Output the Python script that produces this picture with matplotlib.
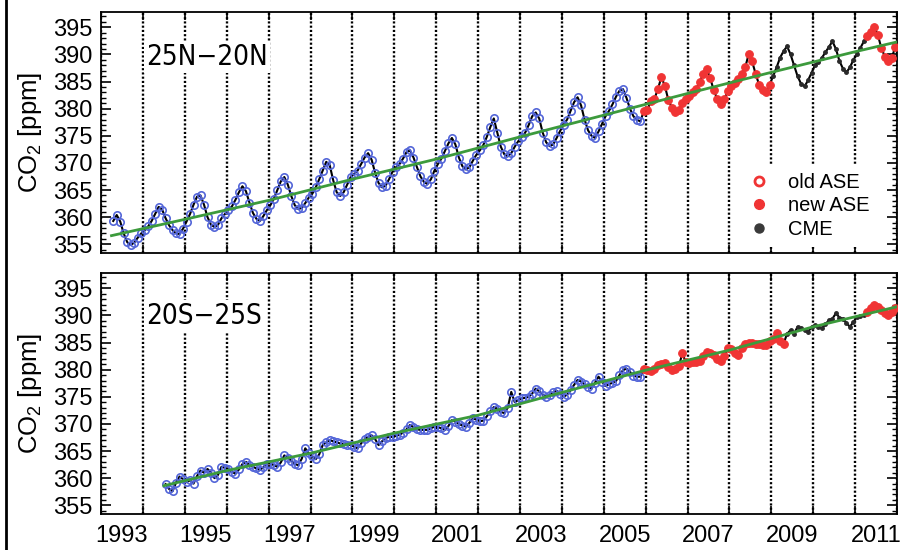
import numpy as np
import matplotlib
matplotlib.use('Agg')
import matplotlib.pyplot as plt
from matplotlib.lines import Line2D

# 数据：月平均 CO2 [ppm]
# 25N-20N，1993年4月 - 2011年12月
north_start = (1993, 4)
north_co2 = [
    359.3, 360.4, 359.2, 357.0, 355.4, 354.9, 355.3, 356.2, 357.0,                  # 1993
    357.6, 358.3, 359.3, 360.6, 361.9, 361.4, 359.8, 358.5, 357.6, 357.0, 356.9, 357.9,  # 1994
    359.2, 360.6, 362.3, 363.8, 364.0, 362.3, 360.0, 358.6, 358.2, 358.6, 359.8, 360.6,  # 1995
    361.4, 362.0, 363.2, 364.6, 365.7, 364.8, 362.7, 360.8, 359.7, 359.3, 360.2, 361.3,  # 1996
    362.2, 363.4, 365.0, 366.6, 367.4, 366.0, 363.9, 362.2, 361.5, 361.7, 362.6, 363.6,  # 1997
    364.3, 365.5, 367.0, 368.6, 370.2, 369.6, 366.8, 364.6, 363.9, 364.6, 366.0, 367.4,  # 1998
    368.0, 368.6, 369.8, 371.0, 371.8, 370.6, 368.2, 366.3, 365.5, 365.8, 367.0, 368.4,  # 1999
    369.2, 369.8, 370.8, 372.0, 372.3, 371.0, 369.2, 367.5, 366.5, 366.1, 367.0, 368.6,  # 2000
    369.8, 370.8, 372.2, 373.6, 374.6, 373.4, 371.0, 369.4, 368.8, 369.2, 370.4, 371.5,  # 2001
    372.3, 373.3, 374.8, 376.6, 378.2, 375.6, 373.0, 371.6, 371.2, 371.8, 373.0, 374.0,  # 2002
    374.8, 375.6, 377.0, 378.6, 379.3, 378.2, 375.6, 373.8, 373.1, 373.4, 374.6, 375.9,  # 2003
    377.0, 378.0, 379.6, 381.2, 382.1, 380.6, 378.0, 376.0, 375.0, 374.6, 375.8, 377.2,  # 2004
    378.6, 379.6, 380.8, 382.2, 383.3, 383.6, 382.0, 380.0, 378.6, 377.9, 377.7, 379.6,  # 2005
    379.8, 381.4, 381.8, 383.6, 385.8, 384.2, 381.6, 380.2, 379.3, 379.8, 381.0, 381.8,  # 2006
    382.4, 383.0, 383.6, 385.0, 386.4, 387.3, 385.6, 383.4, 381.8, 380.8, 381.8, 383.2,  # 2007
    384.2, 384.8, 385.4, 386.4, 387.6, 390.0, 388.7, 386.4, 384.4, 383.4, 383.0, 384.4,  # 2008
    386.0, 387.6, 389.4, 390.6, 391.5, 390.0, 388.0, 386.0, 384.6, 384.1, 385.2, 386.6,  # 2009
    388.0, 388.6, 389.4, 390.4, 391.4, 392.4, 391.0, 388.8, 387.4, 386.7, 387.6, 389.0,  # 2010
    390.0, 391.2, 392.4, 393.4, 394.2, 395.0, 393.6, 391.2, 389.6, 388.8, 389.4, 391.4,  # 2011
]
north_segments = [('blue', (1993, 4), (2005, 11)), ('ase', (2005, 12), (2008, 12)),
                  ('cme', (2009, 1), (2011, 3)), ('ase', (2011, 4), (2011, 12))]
north_trend_t = [1993.25, 1995, 1997, 1999, 2001, 2003, 2005, 2007, 2009, 2011, 2012]
north_trend = [356.6, 359.6, 363.1, 367.0, 370.7, 374.8, 378.8, 382.8, 386.7, 390.5, 392.3]

# 20S-25S，1994年7月 - 2011年12月
south_start = (1994, 7)
south_co2 = [
    358.9, 358.0, 357.6, 359.2, 360.3, 359.8,                                        # 1994
    359.3, 359.6, 359.0, 360.4, 361.4, 361.0, 361.7, 361.0, 360.0, 360.6, 362.1, 361.9,  # 1995
    361.7, 361.2, 360.8, 361.6, 362.6, 363.0, 362.4, 362.1, 361.8, 361.5, 362.0, 362.7,  # 1996
    362.7, 362.4, 362.1, 362.9, 364.2, 363.8, 363.2, 362.6, 362.4, 363.6, 365.5, 364.6,  # 1997
    364.0, 363.5, 364.4, 366.1, 366.6, 367.0, 366.8, 366.6, 366.4, 366.3, 366.2, 366.1,  # 1998
    365.8, 365.5, 366.4, 367.2, 367.6, 367.9, 367.2, 366.1, 366.8, 367.4, 367.6, 367.6,  # 1999
    367.8, 368.0, 368.4, 369.0, 369.8, 369.4, 369.0, 368.9, 368.9, 368.9, 369.2, 369.5,  # 2000
    369.4, 369.2, 368.9, 369.6, 370.7, 370.4, 370.0, 369.7, 369.5, 370.2, 371.0, 370.8,  # 2001
    370.5, 370.6, 371.4, 372.3, 373.1, 372.8, 372.2, 372.0, 373.0, 375.9, 374.0, 374.4,  # 2002
    374.7, 374.8, 375.0, 375.6, 376.5, 376.0, 375.4, 375.0, 375.4, 375.8, 376.1, 375.6,  # 2003
    375.0, 375.4, 376.2, 377.2, 378.1, 377.8, 377.3, 376.8, 376.5, 377.6, 378.7, 377.8,  # 2004
    377.0, 377.3, 377.6, 377.9, 379.0, 379.9, 380.2, 379.6, 378.9, 378.7, 378.7, 380.1,  # 2005
    379.9, 379.8, 380.2, 380.8, 381.0, 381.3, 380.4, 379.9, 380.2, 380.6, 383.0, 381.4,  # 2006
    381.3, 381.4, 381.5, 381.6, 382.6, 383.3, 383.0, 382.7, 382.0, 381.6, 382.6, 383.9,  # 2007
    383.8, 383.0, 382.7, 384.0, 384.8, 385.0, 385.0, 384.8, 384.7, 384.5, 384.5, 385.2,  # 2008
    385.7, 386.7, 385.2, 384.8, 386.6, 387.3, 386.6, 387.9, 387.6, 387.3, 387.0, 387.8,  # 2009
    388.2, 387.8, 387.6, 388.4, 389.1, 389.4, 390.4, 389.6, 389.4, 388.6, 387.9, 388.8,  # 2010
    389.7, 389.9, 390.0, 390.6, 391.4, 391.9, 391.6, 391.0, 390.5, 390.0, 390.6, 391.3,  # 2011
]
south_segments = [('blue', (1994, 7), (2005, 11)), ('ase', (2005, 12), (2009, 4)),
                  ('cme', (2009, 5), (2011, 3)), ('ase', (2011, 4), (2011, 12))]
south_trend_t = [1994.5, 1996, 1998, 2000, 2002, 2004, 2006, 2008, 2010, 2012]
south_trend = [358.6, 361.4, 364.6, 368.3, 371.6, 375.8, 379.9, 383.6, 387.9, 391.6]

year_ticks = list(range(1993, 2013))
label_years = list(range(1993, 2012, 2))
legend_labels = ['old ASE', 'new ASE', 'CME']

plt.rcParams['font.family'] = ['Liberation Sans', 'DejaVu Sans']
plt.rcParams['mathtext.default'] = 'regular'

BLUE = '#5466d8'
RED = '#f03434'
DARK = '#2a2a2a'
GREEN = '#3c9a3c'


def month_index(ym, start):
    return (ym[0] - start[0]) * 12 + (ym[1] - start[1])


def draw_panel(ax, start, co2, segments, trend_t, trend, title, title_y):
    co2 = np.array(co2)
    t = start[0] + (start[1] - 1 + np.arange(len(co2)) + 0.5) / 12.0

    for kind, a, b in segments:
        i0, i1 = month_index(a, start), month_index(b, start) + 1
        if kind == 'blue':
            ax.plot(t[i0:i1], co2[i0:i1], 'o', ms=5.3, mfc='none', mec=BLUE, mew=1.2, zorder=4)
        elif kind == 'ase':
            ax.plot(t[i0:i1], co2[i0:i1], 'o', ms=5.5, mfc=RED, mec=RED, mew=0.8, zorder=4)
        else:
            ax.plot(t[i0:i1], co2[i0:i1], 'o', ms=2.5, mfc=DARK, mec=DARK, zorder=4)

    ax.plot(t, co2, '-', color='black', lw=1.5, zorder=3)
    ax.plot(trend_t, trend, '-', color=GREEN, lw=2.0, zorder=5)

    ax.set_xlim(1993, 2012)
    ax.set_ylim(353.4, 397.8)
    ax.set_xticks(year_ticks)
    ax.set_xticks([y + 0.5 for y in label_years], minor=True)
    ax.set_xticklabels([str(y) for y in label_years], minor=True)
    ax.set_yticks(np.arange(355, 396, 5))
    ax.set_yticks(np.arange(354, 398, 1), minor=True)
    ax.tick_params(axis='x', which='major', direction='in', length=6, width=1.2,
                   top=True, bottom=True, labelbottom=False)
    ax.tick_params(axis='x', which='minor', length=0, labelsize=17, pad=8)
    ax.tick_params(axis='y', which='major', direction='in', length=7, width=1.2,
                   left=True, right=True, labelsize=17, pad=6)
    ax.tick_params(axis='y', which='minor', direction='in', length=3.5, width=1.0,
                   left=True, right=True)
    ax.grid(True, axis='x', which='major', color='black',
            linestyle=(0, (0.9, 0.9)), linewidth=1.7)
    ax.set_axisbelow(True)
    for s in ax.spines.values():
        s.set_linewidth(1.3)

    ax.set_ylabel('CO$_2$ [ppm]', fontsize=18.5)
    ax.yaxis.set_label_coords(-0.072, 0.5)

    ax.text(1994.08, title_y, title, fontsize=20, family='DejaVu Sans',
            fontstretch='condensed', ha='left', va='center', zorder=6,
            bbox=dict(facecolor='white', edgecolor='none', pad=1.5))


fig = plt.figure(figsize=(9.02, 5.5), dpi=100)
ax1 = fig.add_axes([0.112, 0.54, 0.8825, 0.438])
ax2 = fig.add_axes([0.112, 0.0655, 0.8825, 0.438])

draw_panel(ax1, north_start, north_co2, north_segments, north_trend_t, north_trend,
           '25N\u221220N', 389.6)
draw_panel(ax2, south_start, south_co2, south_segments, south_trend_t, south_trend,
           '20S\u221225S', 389.9)
ax1.tick_params(axis='x', which='minor', labelbottom=False)

handles = [
    Line2D([], [], ls='none', marker='o', ms=6.5, mfc='white', mec=RED, mew=2.0),
    Line2D([], [], ls='none', marker='o', ms=7, mfc=RED, mec=RED),
    Line2D([], [], ls='none', marker='o', ms=6.5, mfc='#3a3a3a', mec='#3a3a3a'),
]
leg = ax1.legend(handles, legend_labels, loc='lower right', bbox_to_anchor=(0.975, 0.025),
                 fontsize=14.5, frameon=True, facecolor='white', edgecolor='none',
                 framealpha=1.0, handlelength=0.8, handletextpad=1.0,
                 labelspacing=0.22, borderpad=0.4, borderaxespad=0.0)
leg.set_zorder(7)

# 左侧边框
fig.add_artist(Line2D([0.0072, 0.0072], [0, 1], transform=fig.transFigure,
                      color='black', lw=2.0))

fig.savefig('out.png', dpi=100)
